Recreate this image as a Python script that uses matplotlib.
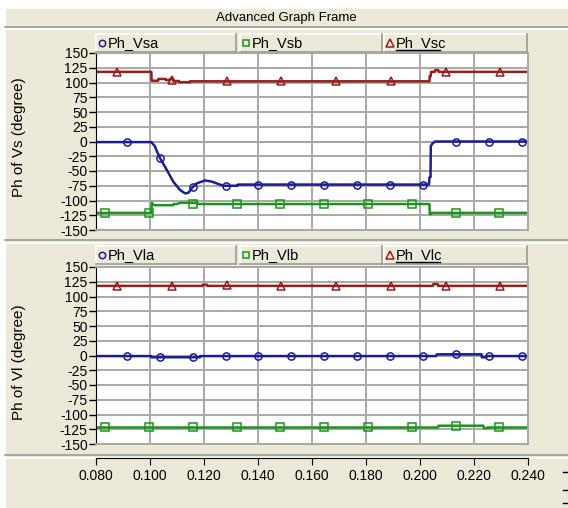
import matplotlib
matplotlib.use('Agg')
import matplotlib.pyplot as plt
from matplotlib.patches import Rectangle

plt.rcParams['font.family'] = ['Liberation Sans', 'DejaVu Sans']

W, H = 568, 508
BEIGE = '#ece9d8'
GRID = '#a8a8a8'
BLUE, GREEN, RED = '#1c1c96', '#1a961a', '#9a1c1c'

# ---- data ----
x_ticks = [0.08, 0.10, 0.12, 0.14, 0.16, 0.18, 0.20, 0.22, 0.24]
x_labels = ['0.080', '0.100', '0.120', '0.140', '0.160', '0.180', '0.200', '0.220', '0.240']
y_ticks = [150, 125, 100, 75, 50, 25, 0, -25, -50, -75, -100, -125, -150]

# top panel: Vs phases
t_vsa = [0.08, 0.1005, 0.1018, 0.1024, 0.1037, 0.1062, 0.1086, 0.1111, 0.1130, 0.1142, 0.1157,
         0.1173, 0.1204, 0.1229, 0.1253, 0.1272, 0.1324, 0.1325, 0.2033, 0.2035, 0.2039, 0.2040,
         0.2045, 0.2056, 0.24]
v_vsa = [-1, -1, -8, -15, -28, -48, -68, -82, -88, -87, -78, -71, -66, -68, -72, -75, -75, -73,
         -73, -61, -60, -8, -4, 0, 0]
t_vsb = [0.08, 0.1005, 0.1007, 0.1015, 0.1086, 0.1087, 0.1100, 0.1110, 0.1175, 0.1176, 0.2035,
         0.2036, 0.2041, 0.2042, 0.24]
v_vsb = [-121, -121, -104, -108, -108, -106, -106, -104, -104, -106, -106, -123, -123, -121, -121]
t_vsc = [0.08, 0.1005, 0.1006, 0.1030, 0.1031, 0.1058, 0.1059, 0.1073, 0.1074, 0.1085, 0.1086,
         0.1108, 0.1109, 0.1147, 0.1148, 0.2035, 0.2036, 0.2040, 0.2041, 0.2055, 0.2056, 0.2068,
         0.2069, 0.24]
v_vsc = [118, 118, 103, 103, 106, 106, 104, 104, 106, 106, 102.5, 102.5, 100.5, 100.5, 102, 102,
         111, 111, 118, 118, 121, 121, 118, 118]

# bottom panel: Vl phases
t_vla = [0.08, 0.1005, 0.1006, 0.1185, 0.1186, 0.2060, 0.2062, 0.2228, 0.2229, 0.2245, 0.2246, 0.24]
v_vla = [-1, -1, -3, -3, -1, -1, 2, 2, -3, -3, -1, -1]
t_vlb = [0.08, 0.2067, 0.2068, 0.2235, 0.2236, 0.2250, 0.2251, 0.24]
v_vlb = [-122, -122, -119, -119, -123, -123, -122, -122]
t_vlc = [0.08, 0.1195, 0.1196, 0.1211, 0.1212, 0.2048, 0.2049, 0.2066, 0.2067, 0.24]
v_vlc = [118, 118, 120, 120, 118, 118, 121, 121, 118, 118]

# marker positions
mk_a_t = [0.0915, 0.1037, 0.1159, 0.1281, 0.1400, 0.1522, 0.1644, 0.1767, 0.1889, 0.2011,
          0.2133, 0.2256, 0.2378]
mk_b_t = [0.0833, 0.0996, 0.1159, 0.1322, 0.1481, 0.1644, 0.1807, 0.1970, 0.2133, 0.2293]
mk_c_t = [0.0878, 0.1081, 0.1285, 0.1485, 0.1689, 0.1893, 0.2096, 0.2296]
mk_vsa = [-1, -28, -77, -75, -73, -73, -73, -73, -73, -73, 0, 0, 0]
mk_vsb = [-121, -121, -106, -106, -106, -106, -106, -106, -121, -121]
mk_vsc = [118, 104, 102, 102, 102, 102, 118, 118]
mk_vla = [-1, -3, -3, -1, -1, -1, -1, -1, -1, -1, 2, -1, -1]
mk_vlb = [-122, -122, -122, -122, -122, -122, -122, -122, -119, -122]
mk_vlc = [118, 118, 120, 118, 118, 118, 118, 118]

panels = [
    dict(top=53, bot=230, ylabel='Ph of Vs (degree)', ylab_y=137,
         names=['Ph_Vsa', 'Ph_Vsb', 'Ph_Vsc'], leg_y=(34, 52),
         lines=[(t_vsa, v_vsa, mk_a_t, mk_vsa, BLUE, 'o'),
                (t_vsb, v_vsb, mk_b_t, mk_vsb, GREEN, 's'),
                (t_vsc, v_vsc, mk_c_t, mk_vsc, RED, '^')]),
    dict(top=267, bot=444, ylabel='Ph of Vl (degree)', ylab_y=362,
         names=['Ph_Vla', 'Ph_Vlb', 'Ph_Vlc'], leg_y=(246, 264),
         lines=[(t_vla, v_vla, mk_a_t, mk_vla, BLUE, 'o'),
                (t_vlb, v_vlb, mk_b_t, mk_vlb, GREEN, 's'),
                (t_vlc, v_vlc, mk_c_t, mk_vlc, RED, '^')]),
]
MS = {'o': 5.2, 's': 5.2, '^': 5.8}

fig = plt.figure(figsize=(W / 100, H / 100), dpi=100)
fig.patch.set_facecolor('white')

# background / frames drawn in pixel coordinates
bg = fig.add_axes([0, 0, 1, 1])
bg.set_xlim(0, W)
bg.set_ylim(H, 0)
bg.axis('off')
bg.set_zorder(0)


def box(x0, y0, x1, y1, fc=BEIGE):
    bg.add_patch(Rectangle((x0, y0), x1 - x0, y1 - y0, facecolor=fc, edgecolor='none'))
    bg.plot([x0, x1], [y0, y0], color='white', lw=1.2)
    bg.plot([x0, x0], [y0, y1], color='white', lw=1.2)
    bg.plot([x0, x1], [y1, y1], color='#9a9a9a', lw=1.2)
    bg.plot([x1, x1], [y0, y1], color='#9a9a9a', lw=1.2)


bg.add_patch(Rectangle((5, 7), W, H, facecolor=BEIGE, edgecolor='none'))
box(5, 8, W + 2, 27)
bg.text(286, 18, 'Advanced Graph Frame', ha='center', va='center', fontsize=9.5)
box(5, 29, W + 2, 240)
box(5, 243, W + 2, 455)
box(5, 458, W + 2, H + 2)
for yy in (472, 490, 503):
    bg.plot([563, W], [yy, yy], color='black', lw=1)

leg_x = [(96, 236), (240, 382), (384, 527)]

for p in panels:
    ax = fig.add_axes([96 / W, 1 - p['bot'] / H, 432 / W, (p['bot'] - p['top']) / H])
    ax.set_zorder(1)
    ax.set_facecolor('white')
    ax.set_xlim(0.08, 0.24)
    ax.set_ylim(-150, 150)
    ax.set_xticks(x_ticks)
    ax.set_yticks(y_ticks)
    ax.set_yticklabels([str(v) for v in y_ticks], fontsize=10)
    ax.tick_params(axis='x', length=0, labelbottom=False)
    ax.tick_params(axis='y', direction='out', length=5, width=1, pad=1)
    ax.grid(True, color=GRID, lw=1.4)
    for s in ['top', 'right', 'bottom']:
        ax.spines[s].set_color(GRID)
        ax.spines[s].set_linewidth(1.4)
    ax.spines['left'].set_color('black')
    ax.axhline(0, color='black', lw=1.2, zorder=1.5)
    for t, v, mt, mv, c, m in p['lines']:
        ax.plot(t, v, color=c, lw=1.8, zorder=2)
        ax.plot(mt, mv, ls='none', marker=m, ms=MS[m], mfc='none',
                mec=c, mew=1.1, zorder=3, clip_on=False)

    bg.text(19, p['ylab_y'], p['ylabel'], rotation=90, ha='center', va='center', fontsize=11)

    y0, y1 = p['leg_y']
    ym = (y0 + y1) / 2
    for (x0, x1), name, (_, _, _, _, c, m) in zip(leg_x, p['names'], p['lines']):
        box(x0, y0, x1, y1)
        bg.plot([x0 + 6], [ym], marker=m, ms=MS[m] - 0.6, mfc='none', mec=c, mew=1.1)
        bg.text(x0 + 12, ym + 0.5, name, ha='left', va='center', fontsize=10.5)
    bg.plot([leg_x[2][0] + 12, leg_x[2][0] + 56], [ym + 7, ym + 7], color='black', lw=1)

# shared x axis at the bottom
axx = fig.add_axes([96 / W, 1 - 458 / H, 432 / W, 0.0001])
axx.set_zorder(1)
axx.patch.set_visible(False)
axx.set_xlim(0.08, 0.24)
axx.set_xticks(x_ticks)
axx.set_xticklabels(x_labels, fontsize=10)
axx.set_yticks([])
for s in ['top', 'left', 'right']:
    axx.spines[s].set_visible(False)
axx.spines['bottom'].set_color('black')
axx.tick_params(axis='x', direction='out', length=5, pad=3)

fig.savefig('out.png', dpi=100)
